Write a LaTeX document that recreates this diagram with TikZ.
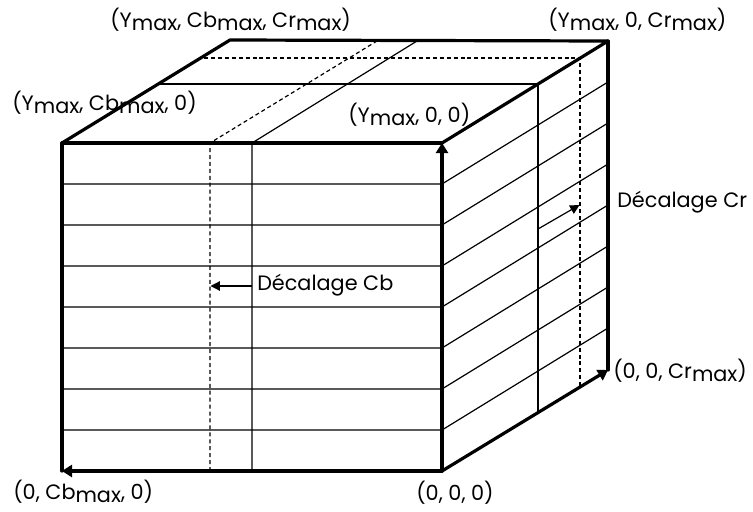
\documentclass[tikz,border=0pt]{standalone}
\usepackage{fontspec}
\setmainfont{Poppins}
\usetikzlibrary{arrows.meta}
\newcommand{\mx}{\raisebox{-2.8pt}{max}}
\tikzset{
  thickedge/.style={line width=2.4pt, line cap=round, line join=round},
  thinline/.style={line width=0.9pt},
  dashline/.style={line width=0.9pt, dash pattern=on 3pt off 2.2pt},
  axisarrow/.style={thickedge, -{Triangle[length=7.5pt,width=9pt]}},
  offarrow/.style={thinline, -{Triangle[length=7pt,width=7pt]}},
  lbl/.style={anchor=base west, inner sep=0pt, font=\fontsize{15.6}{18}\selectfont}
}
\begin{document}
\begin{tikzpicture}[x=0.75pt,y=-0.75pt]
\useasboundingbox (0,0) rectangle (753,511);
% main corners
\coordinate (A) at (62,143);   % front top-left
\coordinate (B) at (442,143);  % front top-right (Ymax,0,0)
\coordinate (O) at (442,471);  % origin
\coordinate (D) at (62,471);   % (0,Cbmax,0)
\coordinate (E) at (230,40);   % back top-left
\coordinate (F) at (608,41);   % back top-right
\coordinate (G) at (608,370);  % (0,0,Crmax)
% horizontal slices on front and right faces
\foreach \y [count=\i] in {184,225,266,307,348,389,430}{
  \coordinate (fl\i) at (62,\y);
  \coordinate (fr\i) at (442,\y);
  \coordinate (br\i) at (608,\y-102);
  \draw[thinline] (fl\i) -- (fr\i) -- (br\i);
}
% Cb slice lines
\coordinate (cbs1) at (252,143); \coordinate (cbs2) at (252,471); \coordinate (cbs3) at (417,41);
\coordinate (cbd1) at (210,143); \coordinate (cbd2) at (210,471); \coordinate (cbd3) at (377,41);
\draw[thinline] (cbs2) -- (cbs1) -- (cbs3);
\draw[dashline] (cbd2) -- (cbd1) -- (cbd3);
% Cr slice lines
\coordinate (crs1) at (159,84); \coordinate (crs2) at (538,84); \coordinate (crs3) at (538,411);
\coordinate (crd1) at (204,58); \coordinate (crd2) at (580,58); \coordinate (crd3) at (580,386);
\draw[thinline] (crs1) -- (crs2) -- (crs3);
\draw[dashline] (crd1) -- (crd2) -- (crd3);
% thick edges
\draw[thickedge] (D) -- (A) -- (B);
\draw[thickedge] (A) -- (E) -- (F) -- (B);
\draw[thickedge] (F) -- (G);
% axes
\draw[axisarrow] (O) -- (B);
\draw[axisarrow] (O) -- (D);
\draw[axisarrow] (O) -- (G);
% offset arrows
\coordinate (cbA) at (252,286); \coordinate (cbB) at (210.5,286);
\draw[offarrow] (cbA) -- (cbB);
\coordinate (crA) at (538,229); \coordinate (crB) at (579.5,205);
\draw[offarrow] (crA) -- (crB);
% labels
\node[lbl] (l1) at (110,27) {(Y\mx, Cb\mx, Cr\mx)};
\node[lbl] (l2) at (548,27) {(Y\mx, 0, Cr\mx)};
\node[lbl] (l3) at (12,110) {(Y\mx, Cb\mx, 0)};
\node[lbl] (l4) at (348,122) {(Y\mx, 0, 0)};
\node[lbl] (l5) at (617,207) {Décalage Cr};
\node[lbl] (l6) at (257,290) {Décalage Cb};
\node[lbl] (l7) at (613,378) {(0, 0, Cr\mx)};
\node[lbl] (l8) at (416,500) {(0, 0, 0)};
\node[lbl] (l9) at (13,499) {(0, Cb\mx, 0)};
\end{tikzpicture}
\end{document}
